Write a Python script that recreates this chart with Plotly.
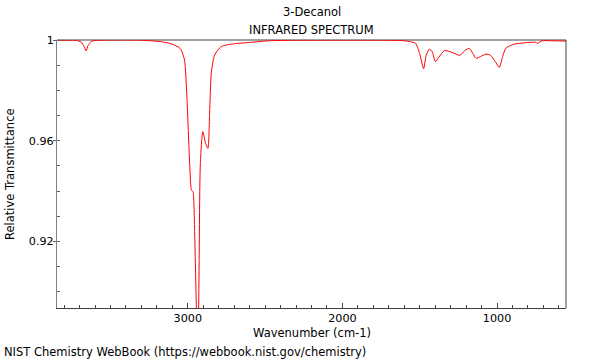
import plotly.graph_objects as go

# Wavenumber (cm-1)
wavenumber = [3846, 3800, 3720, 3690, 3672, 3658, 3645, 3625, 3600, 3450, 3300, 3200,
              3117, 3060, 3042, 3021, 3006, 2988, 2977, 2970, 2965, 2956, 2945, 2938,
              2930, 2919, 2903, 2885, 2870, 2859, 2848, 2827, 2784, 2700, 2600, 2473,
              2300, 1700, 1600, 1560, 1527, 1501, 1475, 1458, 1437, 1420, 1398, 1377,
              1340, 1291, 1241, 1209, 1179, 1157, 1136, 1108, 1072, 1043, 1011, 985,
              964, 943, 893, 818, 753, 736, 710, 650, 582, 554]
# Relative transmittance
transmittance = [0.9999, 0.9999, 0.9998, 0.9992, 0.9975, 0.9957, 0.9978, 0.9994, 0.9998, 1.0,
                 0.9999, 0.9995, 0.9987, 0.9972, 0.9960, 0.9920, 0.9775, 0.9510, 0.9405, 0.9400,
                 0.9395, 0.9240, 0.8950, 0.8780, 0.8930, 0.9510, 0.9636, 0.9590, 0.9570, 0.9710,
                 0.9870, 0.9940, 0.9974, 0.9985, 0.9990, 0.9997, 0.9999, 0.9999, 0.9997, 0.9993,
                 0.9987, 0.9947, 0.9886, 0.9940, 0.9964, 0.9954, 0.9914, 0.9931, 0.9958, 0.9951,
                 0.9939, 0.9958, 0.9967, 0.9947, 0.9927, 0.9934, 0.9944, 0.9940, 0.9914, 0.9891,
                 0.9934, 0.9967, 0.9983, 0.9989, 0.9991, 0.9987, 0.9997, 0.9997, 0.9996, 0.9996]

x_ticks = [3000, 2000, 1000]
y_ticks = [0.92, 0.96, 1.0]
y_ticktext = ["0.92", "0.96", "1"]

title_lines = ["3-Decanol", "INFRARED SPECTRUM"]
x_title = "Wavenumber (cm-1)"
y_title = "Relative Transmittance"
footer = "NIST Chemistry WebBook (https://webbook.nist.gov/chemistry)"

FONT = "DejaVu Sans"
TXT = 11.5
TICK = 11.2

fig = go.Figure()
fig.add_trace(go.Scatter(
    x=wavenumber, y=transmittance, mode="lines",
    line=dict(color="#ff0000", width=1, shape="spline", smoothing=0.6),
    hoverinfo="skip", showlegend=False))

fig.update_layout(
    width=600, height=360,
    margin=dict(l=57, r=34, t=40, b=52),
    paper_bgcolor="white", plot_bgcolor="white",
    font=dict(family=FONT, size=TXT, color="black"),
    xaxis=dict(range=[3846, 554], tickvals=x_ticks, ticks="inside", ticklen=5,
               tickcolor="#404040", showgrid=False, zeroline=False,
               showline=True, linecolor="#404040", linewidth=1,
               tickfont=dict(family=FONT, size=TICK, color="black"),
               minor=dict(dtick=100, ticks="inside", ticklen=3, tickcolor="#404040",
                          showgrid=False)),
    yaxis=dict(range=[0.8936, 1.0], tickvals=y_ticks, ticktext=y_ticktext,
               ticks="outside", ticklen=3, tickcolor="#606060",
               ticklabelstandoff=-3,
               showgrid=False, zeroline=False,
               showline=True, linecolor="#808080", linewidth=1,
               tickfont=dict(family=FONT, size=TICK, color="black"),
               minor=dict(dtick=0.01, ticks="inside", ticklen=3, tickcolor="#606060",
                          showgrid=False)),
    shapes=[
        dict(type="line", xref="paper", yref="paper", x0=1, x1=1, y0=0, y1=1,
             line=dict(color="#404040", width=1)),
        dict(type="line", xref="paper", yref="paper", x0=0, x1=1, y0=1, y1=1,
             line=dict(color="#a0a0a0", width=2), layer="below"),
    ],
    annotations=[
        dict(text=title_lines[0], xref="paper", yref="paper", x=0.5, y=1.1045,
             xanchor="center", yanchor="middle", showarrow=False,
             font=dict(family=FONT, size=TXT, color="black")),
        dict(text=title_lines[1], xref="paper", yref="paper", x=0.5, y=1.0373,
             xanchor="center", yanchor="middle", showarrow=False,
             font=dict(family=FONT, size=TXT, color="black")),
        dict(text=x_title, xref="paper", yref="paper", x=0.5, y=-0.093,
             xanchor="center", yanchor="middle", showarrow=False,
             font=dict(family=FONT, size=TXT, color="black")),
        dict(text=y_title, xref="paper", yref="paper", x=-0.0923, y=0.5,
             xanchor="center", yanchor="middle", showarrow=False, textangle=-90,
             font=dict(family=FONT, size=TXT, color="black")),
        dict(text=footer, xref="paper", yref="paper", x=-0.108, y=-0.164,
             xanchor="left", yanchor="middle", showarrow=False,
             font=dict(family=FONT, size=TXT, color="black")),
    ],
)

fig.write_html("out.html", config={"displayModeBar": False},
               post_script="document.body.style.margin='0px';")
